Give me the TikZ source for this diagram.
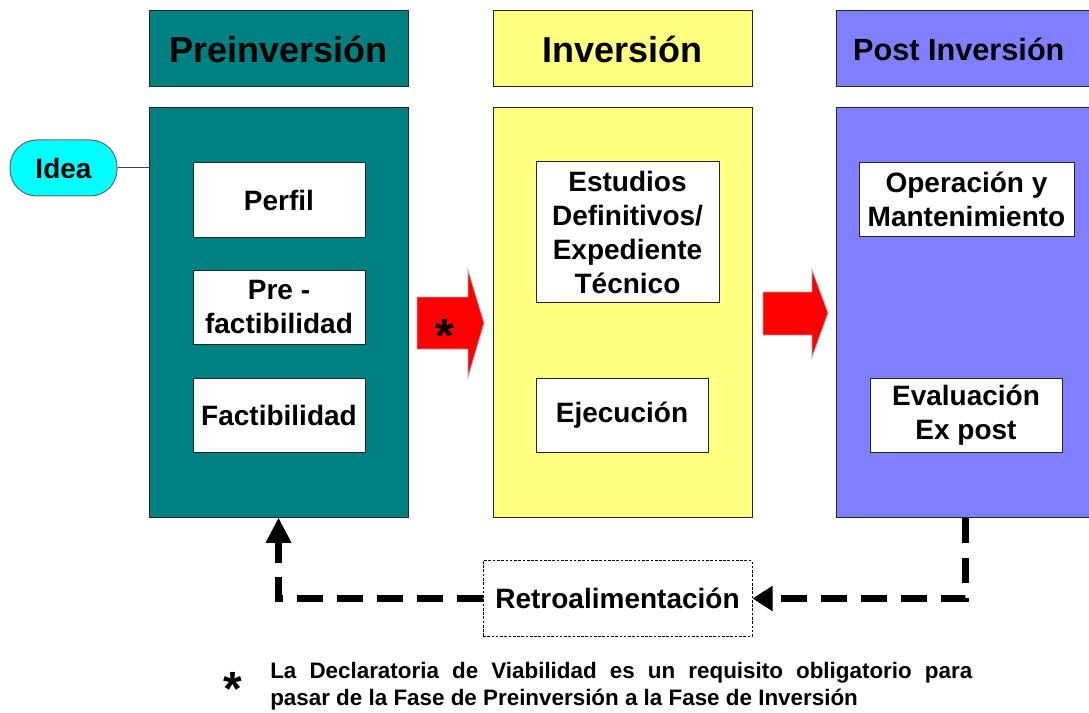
\documentclass[tikz,border=0pt]{standalone}
\usepackage{fontspec}
\setmainfont{Liberation Sans}
\usetikzlibrary{arrows.meta}

\definecolor{preteal}{RGB}{0,128,128}
\definecolor{invyellow}{RGB}{255,255,128}
\definecolor{postblue}{RGB}{128,128,255}
\definecolor{ideacyan}{RGB}{0,255,255}
\definecolor{flechared}{RGB}{255,0,0}

\tikzset{
  head/.style={draw=black!85, line width=0.75pt, minimum width=194.25pt, minimum height=57pt,
    font=\bfseries\fontsize{27}{32}\selectfont},
  fase/.style={draw=black!85, line width=0.75pt, minimum width=194.25pt, minimum height=306.75pt},
  etapa/.style={draw=black!85, fill=white, line width=0.75pt, minimum height=56pt, inner sep=2pt,
    align=center, font=\bfseries\fontsize{21}{25.5}\selectfont},
  retro/.style={line width=5pt, dash pattern=on 19pt off 11pt},
  flecha/.style={fill=flechared, draw=black!35, line width=0.6pt}
}

\begin{document}
\begin{tikzpicture}[x=0.75pt,y=-0.75pt]
\useasboundingbox (0,0) rectangle (1089,713);
%Preinversion
\node[head,fill=preteal] (prehead) at (278.5,49) {Preinversión};
\node[fase,fill=preteal] (pre) at (278.5,312.5) {};
\node[etapa,minimum width=129pt] (perfil) at (279,200) {Perfil};
\node[etapa,minimum width=129pt] (prefact) at (279,307.5) {Pre -\\factibilidad};
\node[etapa,minimum width=129pt] (fact) at (279,415.5) {Factibilidad};
%Inversion
\node[head,fill=invyellow] (invhead) at (622.5,49) {Inversión};
\node[fase,fill=invyellow] (inv) at (622.5,312.5) {};
\node[etapa,minimum width=137.25pt,minimum height=105pt] (estudios) at (627.5,232)
  {Estudios\\Definitivos/\\Expediente\\Técnico};
\node[etapa,minimum width=129pt] (ejec) at (622,415.5) {Ejecución};
%Post inversion
\node[head,fill=postblue,font=\bfseries\fontsize{23}{28}\selectfont] (posthead) at (965.5,49)
  {Post Inversión\hspace*{10pt}};
\node[fase,fill=postblue] (post) at (965.5,312.5) {};
\node[etapa,minimum width=161.25pt] (operac) at (966.5,199.5) {Operación y\\Mantenimiento};
\node[etapa,minimum width=144pt] (evalua) at (966,415.5) {Evaluación\\Ex post};
%Idea
\node[draw=black!60, fill=ideacyan, line width=0.75pt, rounded corners=20pt, minimum width=80.25pt,
  minimum height=42pt, font=\bfseries\fontsize{21}{25.5}\selectfont] (idea) at (63.5,168) {Idea};
\draw[black!75, line width=0.75pt] (idea) -- (idea -| pre.west);
%flechas rojas
\filldraw[flecha] (417,297) -- (468,297) -- (468,270) -- (484,323) -- (468,377) -- (468,349) -- (417,349) -- cycle;
\filldraw[flecha] (763,292) -- (812,292) -- (812,270) -- (828,313) -- (812,357) -- (812,335) -- (763,335) -- cycle;
\node[anchor=base, inner sep=0pt, font=\bfseries\fontsize{36}{36}\selectfont] (ast) at (445,352) {*};
%Retroalimentacion
\node[draw, line width=0.75pt, dash pattern=on 2pt off 1.2pt, minimum width=201.75pt, minimum height=57pt,
  font=\bfseries\fontsize{21}{25.5}\selectfont] (retroal) at (617.5,598.5) {Retroalimentación};
\draw[retro, -{Triangle[length=15pt,width=18pt]}] (post.south) -- (post.south |- retroal) -- (retroal.east);
\draw[retro, -{Triangle[length=19pt,width=18pt]}] (retroal.west) -- (retroal.west -| pre.south) -- (pre.south);
%nota
\node[anchor=base, inner sep=0pt, font=\bfseries\fontsize{36}{36}\selectfont] (nota ast) at (233,705) {*};
\node[anchor=west, inner sep=0pt, text width=526.5pt, align=justify,
  font=\bfseries\fontsize{16.8}{20.25}\selectfont] (nota) at (270,686)
  {La Declaratoria de Viabilidad es un requisito obligatorio para\linebreak
   pasar de la Fase de Preinversión a la Fase de Inversión};
\end{tikzpicture}
\end{document}
